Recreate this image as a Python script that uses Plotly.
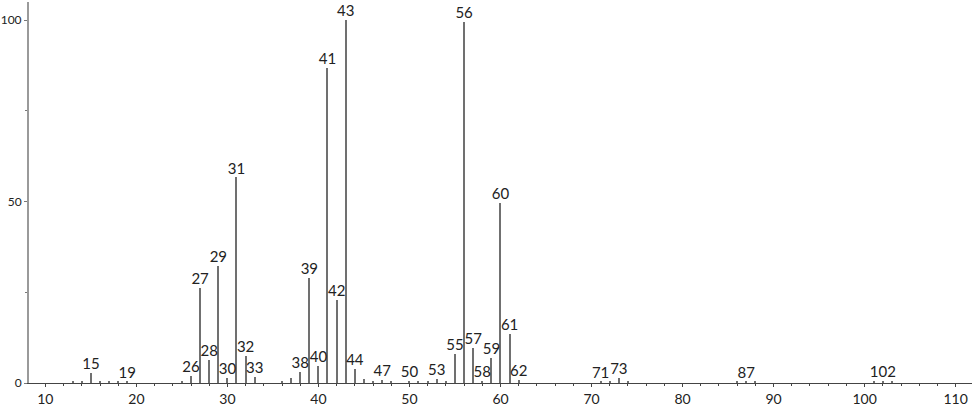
import plotly.graph_objects as go

# m/z values and relative intensities
mz = [13, 14, 15, 16, 17, 18, 19, 25, 26, 27, 28, 29, 30, 31, 32, 33, 36, 37, 38, 39,
      40, 41, 42, 43, 44, 45, 46, 47, 48, 50, 51, 52, 53, 54, 55, 56, 57, 58, 59, 60,
      61, 62, 71, 72, 73, 74, 86, 87, 88, 101, 102, 103]
intensity = [0.4, 0.6, 2.8, 0.5, 0.4, 0.5, 0.4, 0.5, 1.9, 26.2, 6.3, 32.3, 1.4, 56.7, 7.4, 1.7, 0.5, 1.3, 3.0, 29.0,
             4.7, 86.8, 22.9, 100.0, 3.9, 1.2, 0.3, 0.9, 0.3, 0.5, 0.6, 0.4, 1.1, 0.3, 8.0, 99.5, 9.6, 0.6, 6.9, 49.6,
             13.5, 0.8, 0.4, 0.4, 1.4, 0.3, 0.3, 0.4, 0.3, 0.4, 0.6, 0.3]

# peaks that carry a label
labeled = [15, 19, 26, 27, 28, 29, 30, 31, 32, 33, 38, 39, 40, 41, 42, 43, 44, 47, 50, 53,
           55, 56, 57, 58, 59, 60, 61, 62, 71, 73, 87, 102]

x_ticks = [10, 20, 30, 40, 50, 60, 70, 80, 90, 100, 110]
y_ticks = [0, 50, 100]

lookup = dict(zip(mz, intensity))
lab_x = labeled
lab_y = [lookup[m] for m in labeled]
lab_t = [str(m) for m in labeled]

FONT = "Lato"

fig = go.Figure()
fig.add_trace(go.Bar(
    x=mz, y=intensity, width=0.13,
    marker=dict(color="#707070", line=dict(width=0)),
    hoverinfo="x+y",
))
fig.add_trace(go.Scatter(
    x=lab_x, y=lab_y, text=lab_t, mode="text",
    textposition="top center",
    textfont=dict(family=FONT, size=15, color="#222222"),
    hoverinfo="skip",
    cliponaxis=False,
))

fig.update_layout(
    width=974, height=406,
    margin=dict(l=29, r=2, t=2, b=23),
    paper_bgcolor="white", plot_bgcolor="white",
    showlegend=False,
    bargap=0,
    font=dict(family=FONT, size=14, color="#222222"),
    xaxis=dict(
        range=[8.2, 111.8], tickmode="array", tickvals=x_ticks,
        ticks="outside", ticklen=3, tickwidth=1, tickcolor="#444",
        showline=True, linecolor="#444", linewidth=1,
        showgrid=False, zeroline=False, automargin=False,
        tickfont=dict(family=FONT, size=14, color="#222"),
        minor=dict(dtick=2, tick0=0, ticks="outside", ticklen=2, tickcolor="#444", showgrid=False),
    ),
    yaxis=dict(
        range=[0, 105], tickmode="array", tickvals=y_ticks,
        ticks="outside", ticklen=3, tickwidth=1, tickcolor="#777",
        showline=True, linecolor="#9a9a9a", linewidth=2,
        showgrid=False, zeroline=False, automargin=False,
        tickfont=dict(family=FONT, size=12, color="#222"),
        minor=dict(tickvals=[25, 75], ticks="outside", ticklen=2, tickcolor="#777", showgrid=False),
    ),
)

fig.write_html(
    "out.html",
    config={"displayModeBar": False},
    post_script="document.body.style.margin='0';document.body.style.overflow='hidden';",
)
